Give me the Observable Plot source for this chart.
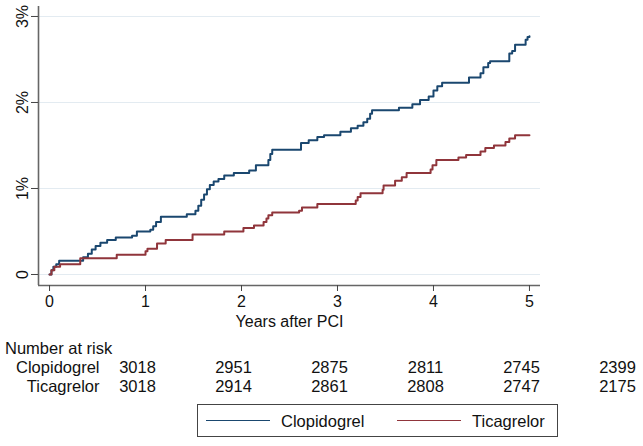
<!DOCTYPE html>
<html>
<head>
<meta charset="utf-8">
<script src="https://cdn.jsdelivr.net/npm/d3@7"></script>
<script src="https://cdn.jsdelivr.net/npm/@observablehq/plot@0.6"></script>
<style>
  html, body { margin: 0; padding: 0; background: #fff; }
  body { font-family: "Liberation Sans", Arial, Helvetica, sans-serif; color: #111; }
  #chart { width: 643px; height: 446px; position: relative; overflow: hidden; }
  #chart svg { display: block; }
  #risk { position: relative; }
  #risk-title { position: absolute; left: 5px; top: 3px; font-size: 16.5px; line-height: 18px; }
  #legend { position: relative; margin-top: 6px; margin-left: 197px; width: 361px; height: 33px;
            box-sizing: border-box; border: 1px solid #444; font-size: 16.5px; }
  #legend .swatch { position: absolute; top: 15px; width: 64px; height: 0; border-top: 1.5px solid; }
  #legend .name { position: absolute; top: 6px; line-height: 20px; }
</style>
</head>
<body>
<div id="chart"></div>
<script>
// Cumulative incidence (%) by years after PCI, as [years, percent] at each step.
const clopidogrelSteps = [
  [0, 0], [0.02, 0.05], [0.04, 0.09], [0.07, 0.12], [0.10, 0.16], [0.35, 0.20],
  [0.40, 0.24], [0.44, 0.29], [0.48, 0.33], [0.53, 0.37], [0.60, 0.40], [0.69, 0.43],
  [0.86, 0.45], [0.91, 0.50], [1.05, 0.52], [1.08, 0.56], [1.11, 0.61], [1.16, 0.67],
  [1.43, 0.70], [1.52, 0.74], [1.55, 0.80], [1.58, 0.87], [1.61, 0.93], [1.64, 0.99],
  [1.67, 1.04], [1.71, 1.08], [1.76, 1.11], [1.82, 1.15], [1.92, 1.18], [2.08, 1.21],
  [2.15, 1.27], [2.28, 1.33], [2.30, 1.40], [2.32, 1.45], [2.62, 1.53], [2.70, 1.56],
  [2.79, 1.60], [2.86, 1.62], [3.03, 1.66], [3.14, 1.70], [3.21, 1.73], [3.27, 1.77],
  [3.31, 1.81], [3.34, 1.87], [3.36, 1.91], [3.64, 1.94], [3.78, 1.98], [3.86, 2.03],
  [3.95, 2.07], [4.00, 2.14], [4.04, 2.19], [4.09, 2.23], [4.37, 2.29], [4.49, 2.34],
  [4.52, 2.41], [4.57, 2.46], [4.59, 2.48], [4.79, 2.57], [4.82, 2.60], [4.85, 2.67],
  [4.96, 2.73], [4.98, 2.76], [5.00, 2.77]
];
const ticagrelorSteps = [
  [0, 0], [0.02, 0.05], [0.05, 0.09], [0.11, 0.12], [0.32, 0.19], [0.70, 0.23],
  [1.00, 0.27], [1.02, 0.30], [1.12, 0.36], [1.21, 0.40], [1.49, 0.465], [1.82, 0.50],
  [2.02, 0.54], [2.13, 0.57], [2.23, 0.61], [2.26, 0.65], [2.28, 0.69], [2.32, 0.72],
  [2.60, 0.74], [2.63, 0.78], [2.79, 0.82], [3.19, 0.86], [3.21, 0.90], [3.24, 0.945],
  [3.47, 0.985], [3.48, 1.035], [3.60, 1.09], [3.67, 1.13], [3.72, 1.18], [3.97, 1.22],
  [3.99, 1.27], [4.03, 1.33], [4.26, 1.36], [4.34, 1.39], [4.49, 1.43], [4.54, 1.47],
  [4.63, 1.50], [4.75, 1.54], [4.79, 1.58], [4.85, 1.62], [5.00, 1.62]
];

// Number-at-risk table
const riskYears = [0, 1, 2, 3, 4, 5];
const clopidogrelAtRisk = [3018, 2951, 2875, 2811, 2745, 2399];
const ticagrelorAtRisk = [3018, 2914, 2861, 2808, 2747, 2175];

const groups = ["Clopidogrel", "Ticagrelor"];
const groupColors = ["#1a476f", "#90353b"];

const yearTicks = [0, 1, 2, 3, 4, 5];
const percentTicks = [0, 1, 2, 3];
const xDomain = [-0.115, 5.115];
const yDomain = [-0.128, 3.116];

const fontFamily = '"Liberation Sans", Arial, Helvetica, sans-serif';

const curves = [
  ...clopidogrelSteps.map(([t, v]) => ({group: groups[0], t, v})),
  ...ticagrelorSteps.map(([t, v]) => ({group: groups[1], t, v}))
];

const main = Plot.plot({
  width: 643,
  height: 336,
  marginTop: 6,
  marginBottom: 51,
  marginLeft: 38,
  marginRight: 103,
  style: {fontFamily, fontSize: "16px", color: "#111", background: "#fff"},
  x: {domain: xDomain},
  y: {domain: yDomain},
  color: {domain: groups, range: groupColors},
  marks: [
    Plot.gridY(percentTicks, {stroke: "#e3ebf1", strokeOpacity: 1, strokeWidth: 1.2}),
    Plot.ruleX([xDomain[0]], {y1: yDomain[0], y2: yDomain[1], stroke: "#666", strokeWidth: 1.6}),
    Plot.ruleY([yDomain[0]], {x1: xDomain[0], x2: xDomain[1], stroke: "#666", strokeWidth: 1.6}),
    Plot.axisX({ticks: yearTicks, tickSize: 6, tickPadding: 4, label: null, stroke: "#444", fontSize: 16,
                tickFormat: d => String(d)}),
    Plot.axisY({ticks: percentTicks, tickSize: 7, tickPadding: 4, tickRotate: -90, label: null, stroke: "#444",
                fontSize: 16, tickFormat: d => d === 0 ? "0" : d + "%"}),
    Plot.line(curves, {x: "t", y: "v", z: "group", stroke: "group", curve: "step-after", strokeWidth: 2}),
    Plot.text(["Years after PCI"], {frameAnchor: "bottom", dy: 41, fontSize: 16})
  ]
});

const riskRows = [
  ...riskYears.map((year, i) => ({group: groups[0], year, n: clopidogrelAtRisk[i]})),
  ...riskYears.map((year, i) => ({group: groups[1], year, n: ticagrelorAtRisk[i]}))
];

const risk = Plot.plot({
  width: 643,
  height: 62,
  marginTop: 31,
  marginBottom: 12,
  marginLeft: 137,
  marginRight: 26,
  style: {fontFamily, fontSize: "16.5px", color: "#111", background: "#fff"},
  x: {domain: [riskYears[0], riskYears[riskYears.length - 1]], axis: null},
  y: {type: "point", domain: groups, padding: 0, axis: null},
  marks: [
    Plot.axisY({tickSize: 0, tickPadding: 38, label: null, fontSize: 16.5}),
    Plot.text(riskRows, {x: "year", y: "group", text: d => String(d.n), fontSize: 16.5})
  ]
});

const chart = document.getElementById("chart");
chart.appendChild(main);

const riskBox = document.createElement("div");
riskBox.id = "risk";
const riskTitle = document.createElement("div");
riskTitle.id = "risk-title";
riskTitle.textContent = "Number at risk";
riskBox.appendChild(risk);
riskBox.appendChild(riskTitle);
chart.appendChild(riskBox);

// Legend box below the table
const legend = document.createElement("div");
legend.id = "legend";
const swatchLeft = [8, 199];
const nameLeft = [83, 274];
groups.forEach((g, i) => {
  const sw = document.createElement("span");
  sw.className = "swatch";
  sw.style.left = swatchLeft[i] + "px";
  sw.style.borderTopColor = groupColors[i];
  const nm = document.createElement("span");
  nm.className = "name";
  nm.style.left = nameLeft[i] + "px";
  nm.textContent = g;
  legend.appendChild(sw);
  legend.appendChild(nm);
});
chart.appendChild(legend);
</script>
</body>
</html>
